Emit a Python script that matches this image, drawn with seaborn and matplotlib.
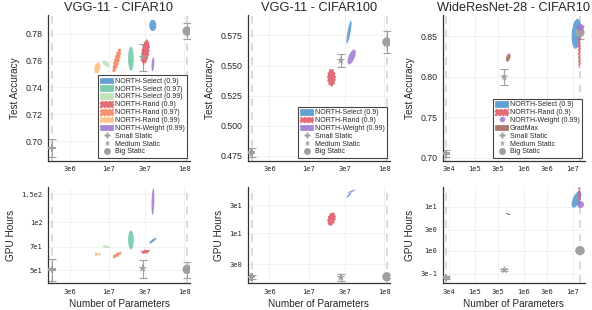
import numpy as np
import pandas as pd
import matplotlib
matplotlib.use("Agg")
import matplotlib.pyplot as plt
from matplotlib.patches import Patch
from matplotlib.lines import Line2D
import seaborn as sns

# VGG-11 - CIFAR10 (centres of the runs, spreads: log10 decades for params / GPU hours)
c10_series = ["NORTH-Select (0.9)", "NORTH-Select (0.97)", "NORTH-Select (0.99)",
              "NORTH-Rand (0.9)", "NORTH-Rand (0.97)", "NORTH-Rand (0.99)", "NORTH-Weight (0.99)"]
c10_params = [3.83e7, 1.96e7, 9.1e6, 3.05e7, 1.27e7, 6.98e6, 3.85e7]
c10_params_spread = [0.047, 0.038, 0.046, 0.052, 0.052, 0.037, 0.019]
c10_acc = [0.7862, 0.7614, 0.7577, 0.7664, 0.7602, 0.7545, 0.7572]
c10_acc_spread = [0.0042, 0.009, 0.0024, 0.0088, 0.0088, 0.0038, 0.0052]
c10_acc_rho = [0.0, 0.0, -0.6, 0.4, 0.8, 0.3, 0.3]
c10_hours = [76.6, 77.4, 70.3, 65.3, 62.2, 63.0, 134.8]
c10_hours_spread = [0.018, 0.06, 0.008, 0.01, 0.017, 0.0065, 0.085]
c10_hours_rho = [0.85, 0.0, -0.3, 0.3, 0.8, 0.0, 0.3]
c10_static_params = [1.74e6, 2.81e7, 1.1e8]
c10_static_acc = [0.695, 0.7625, 0.782]
c10_static_acc_err = [0.0066, 0.010, 0.006]
c10_static_hours = [50.5, 51.3, 50.5]
c10_static_hours_err = [8, 7, 6]

# VGG-11 - CIFAR100
c100_series = ["NORTH-Select (0.9)", "NORTH-Rand (0.9)", "NORTH-Weight (0.99)"]
c100_params = [3.42e7, 2.0e7, 3.71e7]
c100_params_spread = [0.034, 0.05, 0.055]
c100_acc = [0.5777, 0.540, 0.5571]
c100_acc_spread = [0.0095, 0.007, 0.0062]
c100_acc_rho = [0.8, 0.0, 0.6]
c100_hours = [44.9, 17.5, 52.0]
c100_hours_spread = [0.046, 0.108, 0.029]
c100_hours_rho = [0.9, 0.3, 0.9]
c100_static_params = [1.74e6, 2.67e7, 1.09e8]
c100_static_acc = [0.478, 0.5543, 0.5695]
c100_static_acc_err = [0.0035, 0.0052, 0.009]
c100_static_hours = [1.82, 1.78, 1.82]
c100_static_hours_err = [0.15, 0.25, 0.1]

# WideResNet-28 - CIFAR10
wrn_series = ["NORTH-Select (0.9)", "NORTH-Rand (0.9)", "NORTH-Weight (0.99)", "GradMax"]
wrn_params = [1.2e7, 1.37e7, 1.4e7, 4.82e5]
wrn_params_spread = [0.1, 0.016, 0.0, 0.048]
wrn_acc = [0.8533, 0.8369, 0.8615, 0.8238]
wrn_acc_spread = [0.0185, 0.0257, 0.0, 0.0051]
wrn_acc_rho = [0.2, 0.0, 0.0, 0.4]
wrn_hours = [14.7, 16.9, 11.3, 6.8]
wrn_hours_spread = [0.19, 0.227, 0.0, 0.023]
wrn_hours_rho = [0.6, 0.0, 0.0, -0.7]
wrn_static_params = [2.56e4, 3.99e5, 1.41e7]
wrn_static_acc = [0.7053, 0.80, 0.855]
wrn_static_acc_err = [0.004, 0.0098, 0.008]
wrn_static_hours = [0.243, 0.363, 1.0]
wrn_static_hours_err = [0.02, 0.02, 0.05]

static_names = ["Small Static", "Medium Static", "Big Static"]

colores = {
    "NORTH-Select (0.9)": "#4f97d0",
    "NORTH-Select (0.97)": "#6fc7a7",
    "NORTH-Select (0.99)": "#b9e2b0",
    "NORTH-Rand (0.9)": "#e25d6c",
    "NORTH-Rand (0.97)": "#f5875f",
    "NORTH-Rand (0.99)": "#fdbf80",
    "NORTH-Weight (0.99)": "#9f78cf",
    "GradMax": "#a4695a",
}
gris = "#a0a0a0"
marcadores = {"Small Static": "P", "Medium Static": "*", "Big Static": "o"}
tamanios = {"Small Static": 30, "Medium Static": 40, "Big Static": 45}

sns.set_theme(style="white")
plt.rcParams['font.family'] = ['Liberation Sans', 'DejaVu Sans']

fig = plt.figure(figsize=(5.92, 3.10), dpi=100)
W, H = 592, 310


def px_axes(left, top, right, bottom):
    return fig.add_axes([left / W, 1 - bottom / H, (right - left) / W, (bottom - top) / H])


def draw_ellipse(ax, x, y, sx, sy, rho, ylog, color, dotted):
    t = np.linspace(0, 2 * np.pi, 120)
    lx = np.log10(x) + sx * np.cos(t)
    off = sy * (rho * np.cos(t) + np.sqrt(1 - rho ** 2) * np.sin(t))
    yy = 10 ** (np.log10(y) + off) if ylog else y + off
    if dotted:
        ax.fill(10 ** lx, yy, color=color, alpha=0.9, lw=1.0, ls=':', ec=color, zorder=3)
    else:
        ax.fill(10 ** lx, yy, color=color, alpha=0.85, lw=0, zorder=3)


def panel(ax, series, params, pspread, yvals, yspread, rho, ylog,
          sparams, svals, serr, xlim, ylim, xticks, xlabels, yticks, ylabels):
    for v in [sparams[0], sparams[2]]:
        ax.axvline(v, color="#cfcfcf", ls=(0, (5, 4)), lw=1.1, zorder=1)
    for i, name in enumerate(series):
        if pspread[i] == 0:
            ax.plot(params[i], yvals[i], 'o', ms=5, color=colores[name], alpha=0.85, mec='none', zorder=4)
        else:
            draw_ellipse(ax, params[i], yvals[i], pspread[i], yspread[i], rho[i], ylog,
                         colores[name], "Rand" in name)
    ax.errorbar(sparams, svals, yerr=serr, fmt='none', ecolor=gris, elinewidth=0.8,
                capsize=3, capthick=0.8, zorder=2)
    df = pd.DataFrame({"params": sparams, "val": svals, "tipo": static_names})
    sns.scatterplot(data=df, x="params", y="val", style="tipo", markers=marcadores,
                    size="tipo", sizes=tamanios, color=gris, edgecolor='none',
                    legend=False, ax=ax, zorder=3)
    ax.set_xscale('log')
    if ylog:
        ax.set_yscale('log')
    ax.set_xlim(*xlim)
    ax.set_ylim(*ylim)
    ax.set_xticks(xticks)
    ax.set_xticklabels(xlabels, family='DejaVu Sans Mono', fontsize=5)
    ax.set_yticks(yticks)
    if ylog:
        ax.set_yticklabels(ylabels, family='DejaVu Sans Mono', fontsize=5)
    else:
        ax.set_yticklabels(ylabels, fontsize=6.3)
    ax.minorticks_off()
    ax.grid(True, color="#ebebeb", lw=0.5)
    ax.set_axisbelow(True)
    for s in ['top', 'right']:
        ax.spines[s].set_visible(False)
    for s in ['left', 'bottom']:
        ax.spines[s].set_color("#333333")
        ax.spines[s].set_linewidth(0.9)
    ax.tick_params(direction='in', length=2, width=0.6, color="#333333", pad=4)
    ax.set_xlabel('')
    ax.set_ylabel('')


def leyenda(ax, series, circulo=False):
    handles = []
    for name in series:
        if name == "NORTH-Weight (0.99)" and circulo:
            handles.append(Line2D([], [], marker='o', ls='none', ms=4, color=colores[name], alpha=0.85, mec='none'))
        elif "Rand" in name:
            handles.append(Patch(fc=colores[name], ec=colores[name], ls=':', lw=1.0, alpha=0.9))
        else:
            handles.append(Patch(fc=colores[name], ec=sns.desaturate(colores[name], 0.8), lw=0.5, alpha=0.9))
    for name in static_names:
        handles.append(Line2D([], [], marker=marcadores[name], ls='none', ms=4.5 if name != "Big Static" else 5,
                              color=gris, mec='none'))
    leg = ax.legend(handles, list(series) + static_names, loc='lower right', fontsize=5,
                    frameon=True, fancybox=False, borderaxespad=0.45, labelspacing=0.1,
                    handlelength=1.8, handleheight=0.85, handletextpad=0.3, borderpad=0.3)
    leg.get_frame().set_edgecolor("#444444")
    leg.get_frame().set_linewidth(0.8)
    leg.get_frame().set_alpha(1)


cols = [(48, 190), (247.7, 390), (442.7, 585)]
ax1 = px_axes(cols[0][0], 15.5, cols[0][1], 160.7)
ax2 = px_axes(cols[1][0], 15.5, cols[1][1], 160.7)
ax3 = px_axes(cols[2][0], 15.5, cols[2][1], 160.7)
bx1 = px_axes(cols[0][0], 186.7, cols[0][1], 283.3)
bx2 = px_axes(cols[1][0], 186.7, cols[1][1], 283.3)
bx3 = px_axes(cols[2][0], 186.7, cols[2][1], 283.3)

vgg_xt = [3e6, 1e7, 3e7, 1e8]
vgg_xl = ["3e6", "1e7", "3e7", "1e8"]
wrn_xt = [3e4, 1e5, 3e5, 1e6, 3e6, 1e7]
wrn_xl = ["3e4", "1e5", "3e5", "1e6", "3e6", "1e7"]

panel(ax1, c10_series, c10_params, c10_params_spread, c10_acc, c10_acc_spread, c10_acc_rho, False,
      c10_static_params, c10_static_acc, c10_static_acc_err, (1.54e6, 1.2e8), (0.6854, 0.7936),
      vgg_xt, vgg_xl, [0.70, 0.72, 0.74, 0.76, 0.78], ["0.70", "0.72", "0.74", "0.76", "0.78"])
panel(ax2, c100_series, c100_params, c100_params_spread, c100_acc, c100_acc_spread, c100_acc_rho, False,
      c100_static_params, c100_static_acc, c100_static_acc_err, (1.54e6, 1.2e8), (0.4711, 0.5915),
      vgg_xt, vgg_xl, [0.475, 0.5, 0.525, 0.55, 0.575], ["0.475", "0.500", "0.525", "0.550", "0.575"])
panel(ax3, wrn_series, wrn_params, wrn_params_spread, wrn_acc, wrn_acc_spread, wrn_acc_rho, False,
      wrn_static_params, wrn_static_acc, wrn_static_acc_err, (2.2e4, 1.79e7), (0.6963, 0.8759),
      wrn_xt, wrn_xl, [0.70, 0.75, 0.80, 0.85], ["0.70", "0.75", "0.80", "0.85"])
panel(bx1, c10_series, c10_params, c10_params_spread, c10_hours, c10_hours_spread, c10_hours_rho, True,
      c10_static_params, c10_static_hours, c10_static_hours_err, (1.54e6, 1.2e8), (41.3, 167.5),
      vgg_xt, vgg_xl, [50, 70, 100, 150], ["5e1", "7e1", "1e2", "1.5e2"])
panel(bx2, c100_series, c100_params, c100_params_spread, c100_hours, c100_hours_spread, c100_hours_rho, True,
      c100_static_params, c100_static_hours, c100_static_hours_err, (1.54e6, 1.2e8), (1.41, 62.3),
      vgg_xt, vgg_xl, [3, 10, 30], ["3e0", "1e1", "3e1"])
panel(bx3, wrn_series, wrn_params, wrn_params_spread, wrn_hours, wrn_hours_spread, wrn_hours_rho, True,
      wrn_static_params, wrn_static_hours, wrn_static_hours_err, (2.2e4, 1.79e7), (0.18, 28.5),
      wrn_xt, wrn_xl, [0.3, 1, 3, 10], ["3e-1", "1e0", "3e0", "1e1"])

for ax, titulo in zip([ax1, ax2, ax3], ["VGG-11 - CIFAR10", "VGG-11 - CIFAR100", "WideResNet-28 - CIFAR10"]):
    ax.set_title(titulo, fontsize=9.2, pad=3)
    ax.set_ylabel('Test Accuracy', fontsize=7.2)
for bx in [bx1, bx2, bx3]:
    bx.set_ylabel('GPU Hours', fontsize=7.2)
    bx.set_xlabel('Number of Parameters', fontsize=7.2, labelpad=3)

leyenda(ax1, c10_series)
leyenda(ax2, c100_series)
leyenda(ax3, wrn_series, circulo=True)

fig.savefig('out.png', dpi=100)
